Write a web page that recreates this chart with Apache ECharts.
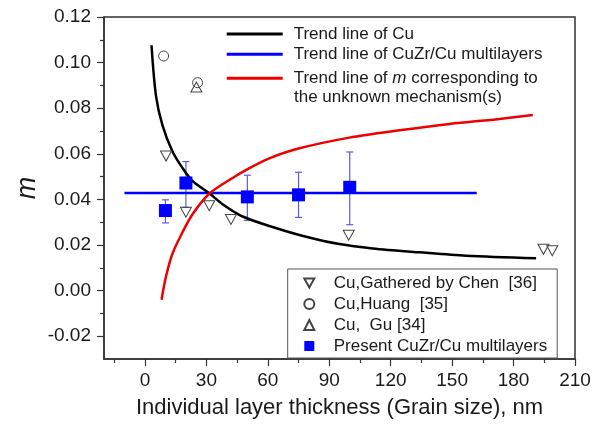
<!DOCTYPE html>
<html>
<head>
<meta charset="utf-8">
<script src="https://cdn.jsdelivr.net/npm/echarts@6/dist/echarts.min.js"></script>
<style>
html,body{margin:0;padding:0;background:#fff;}
#c{width:603px;height:424px;}
</style>
</head>
<body>
<div id="c"></div>
<script>
// ---- data ----
const xTicks = [0, 30, 60, 90, 120, 150, 180, 210];
const xMinorTicks = [-15, 15, 45, 75, 105, 135, 165, 195];
const yTicks = [-0.02, 0, 0.02, 0.04, 0.06, 0.08, 0.10, 0.12];
const yMinorTicks = [-0.01, 0.01, 0.03, 0.05, 0.07, 0.09, 0.11];

const cuTrendX = [3.2, 5.4, 8.6, 13.5, 18.4, 23.3, 31.4, 37.9, 47.7, 62.3, 78.7, 94.9, 111.2, 134, 156.8, 191];
const cuTrendY = [0.1076, 0.0853, 0.0724, 0.0609, 0.0537, 0.048, 0.0427, 0.0379, 0.0325, 0.0279, 0.0236, 0.0204, 0.0185, 0.0168, 0.0153, 0.0142];

const multiTrendX = [-10, 162];
const multiTrendY = [0.0428, 0.0428];

const unknownTrendX = [8.1, 10.3, 13.5, 18.4, 23.3, 31.4, 42.8, 51, 60.7, 75.4, 99.8, 124.3, 148.7, 173.1, 189.4];
const unknownTrendY = [-0.004, 0.0063, 0.0164, 0.0257, 0.0336, 0.0425, 0.0494, 0.0537, 0.058, 0.0624, 0.0671, 0.0703, 0.0731, 0.0753, 0.077];

const chenX = [10.3, 20, 31.4, 42, 99.5, 194.6, 198.9];
const chenY = [0.059, 0.0344, 0.0372, 0.0312, 0.0243, 0.0181, 0.0175];

const huangX = [9.1, 25.7];
const huangY = [0.1029, 0.0912];

const guX = [25.1];
const guY = [0.0893];

const presentX = [10, 20, 50, 75, 100];
const presentY = [0.0351, 0.0472, 0.0411, 0.042, 0.0453];
const presentErrTop = [0.0398, 0.0566, 0.0506, 0.0519, 0.0608];
const presentErrBottom = [0.0297, 0.0365, 0.0308, 0.0321, 0.0289];

const nameCu = 'Trend line of Cu';
const nameMulti = 'Trend line of CuZr/Cu multilayers';
const nameUnknown = 'Trend line of m corresponding to the unknown mechanism(s)';
const nameChen = 'Cu,Gathered by Chen  [36]';
const nameHuang = 'Cu,Huang  [35]';
const nameGu = 'Cu,  Gu [34]';
const namePresent = 'Present CuZr/Cu multilayers';

const zip = (a, b) => a.map((v, i) => [v, b[i]]);

const FONT = 'Liberation Sans, Arial, sans-serif';
const axisCol = '#333';
const txtCol = '#1a1a1a';
const triDown = 'path://M0,0 L10,0 L5,9 Z';

const chart = echarts.init(document.getElementById('c'), null, {renderer: 'canvas'});

const option = {
  animation: false,
  backgroundColor: '#fff',
  textStyle: {fontFamily: FONT},
  grid: {left: 104, right: 28, top: 17, bottom: 60, show: true, borderColor: axisCol, borderWidth: 1.5, backgroundColor: 'transparent'},
  xAxis: [
    {
      type: 'value', min: -20, max: 210, position: 'bottom',
      axisLine: {show: true, onZero: false, lineStyle: {color: axisCol, width: 1.5}},
      axisTick: {show: true, customValues: xTicks, length: 7, lineStyle: {color: axisCol, width: 1.2}},
      axisLabel: {customValues: xTicks, fontSize: 19, color: txtCol, margin: 12, fontFamily: FONT},
      splitLine: {show: false},
      name: 'Individual layer thickness (Grain size), nm',
      nameLocation: 'middle', nameGap: 38,
      nameTextStyle: {fontSize: 22, color: txtCol, fontFamily: FONT}
    },
    {
      type: 'value', min: -20, max: 210, position: 'bottom',
      axisLine: {show: false, onZero: false},
      axisTick: {show: true, customValues: xMinorTicks, length: 4, lineStyle: {color: axisCol, width: 1.2}},
      axisLabel: {show: false},
      splitLine: {show: false}
    }
  ],
  yAxis: [
    {
      type: 'value', min: -0.03, max: 0.12, position: 'left',
      axisLine: {show: true, onZero: false, lineStyle: {color: axisCol, width: 1.5}},
      axisTick: {show: true, customValues: yTicks, length: 7, lineStyle: {color: axisCol, width: 1.2}},
      axisLabel: {customValues: yTicks, fontSize: 19, color: txtCol, margin: 13, fontFamily: FONT,
        formatter: v => v.toFixed(2)},
      splitLine: {show: false},
      name: 'm', nameLocation: 'middle', nameGap: 63, nameRotate: 90, nameMoveOverlap: false,
      nameTextStyle: {fontSize: 27, fontStyle: 'italic', color: txtCol, fontFamily: FONT}
    },
    {
      type: 'value', min: -0.03, max: 0.12, position: 'left',
      axisLine: {show: false, onZero: false},
      axisTick: {show: true, customValues: yMinorTicks, length: 4, lineStyle: {color: axisCol, width: 1.2}},
      axisLabel: {show: false},
      splitLine: {show: false}
    }
  ],
  legend: [
    {
      data: [nameCu, nameMulti],
      orient: 'vertical', left: 226.7, top: 24, padding: 0, itemGap: 0.3,
      itemWidth: 56, itemHeight: 3, icon: 'rect',
      textStyle: {fontSize: 17, color: txtCol, lineHeight: 20, padding: [0, 0, 0, 6], fontFamily: FONT}
    },
    {
      data: [nameUnknown],
      orient: 'vertical', left: 226.7, top: 68.3, padding: 0,
      itemWidth: 56, itemHeight: 3, icon: 'rect',
      formatter: () => 'Trend line of {i|m} corresponding to',
      textStyle: {fontSize: 17, color: txtCol, lineHeight: 20, padding: [0, 0, 0, 6], fontFamily: FONT,
        rich: {i: {fontStyle: 'italic', fontSize: 17, color: txtCol, fontFamily: FONT}}}
    },
    {
      data: [
        {name: nameChen, icon: triDown},
        {name: nameHuang},
        {name: nameGu},
        {name: namePresent}
      ],
      orient: 'vertical', left: 287.7, top: 269, padding: [4, 10, 2, 15.6], itemGap: 1,
      itemWidth: 10, itemHeight: 10, symbolKeepAspect: true,
      borderColor: '#555', borderWidth: 1, backgroundColor: '#fff',
      textStyle: {fontSize: 17, color: txtCol, lineHeight: 20, padding: [0, 0, 0, 14.4], fontFamily: FONT}
    }
  ],
  graphic: [
    {type: 'text', left: 294, top: 88.5, z: 100,
      style: {text: 'the unknown mechanism(s)', fontSize: 17, fill: txtCol, fontFamily: FONT}}
  ],
  series: [
    {
      name: 'errbars', type: 'custom', z: 3, silent: true,
      data: presentX.map((x, i) => [x, presentErrBottom[i], presentErrTop[i]]),
      encode: {x: 0, y: [1, 2]},
      renderItem: function (params, api) {
        const x = api.value(0);
        const lo = api.coord([x, api.value(1)]);
        const hi = api.coord([x, api.value(2)]);
        const w = 3.5;
        const st = {stroke: '#5a5ae0', lineWidth: 1.2};
        return {type: 'group', children: [
          {type: 'line', shape: {x1: lo[0], y1: lo[1], x2: hi[0], y2: hi[1]}, style: st},
          {type: 'line', shape: {x1: hi[0] - w, y1: hi[1], x2: hi[0] + w, y2: hi[1]}, style: st},
          {type: 'line', shape: {x1: lo[0] - w, y1: lo[1], x2: lo[0] + w, y2: lo[1]}, style: st}
        ]};
      }
    },
    {
      name: nameMulti, type: 'line', data: zip(multiTrendX, multiTrendY), z: 4,
      symbol: 'none', lineStyle: {color: '#0000ff', width: 2.5}, itemStyle: {color: '#0000ff'}
    },
    {
      name: nameCu, type: 'line', data: zip(cuTrendX, cuTrendY), smooth: 0.3, z: 5,
      symbol: 'none', lineStyle: {color: '#000', width: 2.5}, itemStyle: {color: '#000'}
    },
    {
      name: nameUnknown, type: 'line', data: zip(unknownTrendX, unknownTrendY), smooth: 0.3, z: 5,
      symbol: 'none', lineStyle: {color: '#ee0000', width: 2.5}, itemStyle: {color: '#ee0000'}
    },
    {
      name: nameChen, type: 'scatter', data: zip(chenX, chenY), z: 6,
      symbol: triDown, symbolSize: [11, 10],
      itemStyle: {color: 'rgba(255,255,255,0)', borderColor: '#444', borderWidth: 1, opacity: 1}
    },
    {
      name: nameHuang, type: 'scatter', data: zip(huangX, huangY), z: 6,
      symbol: 'circle', symbolSize: 10,
      itemStyle: {color: 'rgba(255,255,255,0)', borderColor: '#444', borderWidth: 1, opacity: 1}
    },
    {
      name: nameGu, type: 'scatter', data: zip(guX, guY), z: 6,
      symbol: 'triangle', symbolSize: [11, 10],
      itemStyle: {color: 'rgba(255,255,255,0)', borderColor: '#444', borderWidth: 1, opacity: 1}
    },
    {
      name: namePresent, type: 'scatter', data: zip(presentX, presentY), z: 7,
      symbol: 'rect', symbolSize: 13,
      itemStyle: {color: '#0000ff', opacity: 1}
    }
  ]
};
chart.setOption(option);
</script>
</body>
</html>
